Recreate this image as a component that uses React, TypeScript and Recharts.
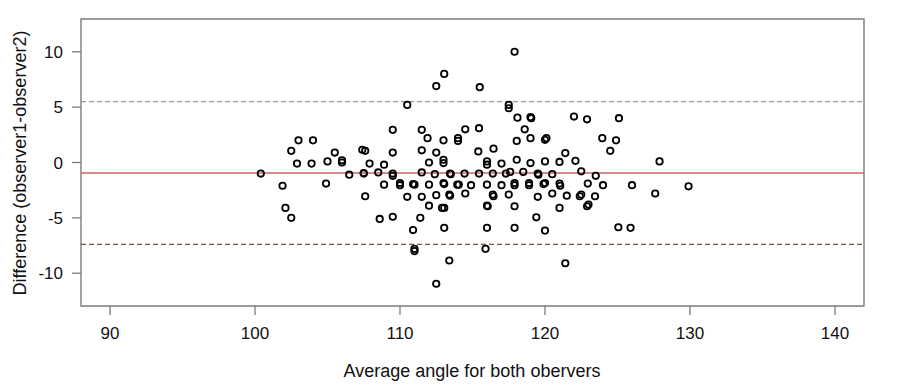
import {
  ScatterChart,
  Scatter,
  XAxis,
  YAxis,
  ReferenceLine,
  ReferenceArea,
} from "recharts";

// average of both observers (x) and their difference (y)
const avgAngle = [
  100.4, 101.9, 102.1, 102.5, 102.5, 103.0, 104.0, 102.9, 103.9, 104.9,
  105.0, 105.5, 106.0, 106.0, 106.5, 107.4, 107.6, 107.5, 107.5, 107.6,
  107.9, 108.5, 108.6, 108.9, 108.9, 109.5, 109.5, 109.5, 109.5, 109.5,
  110.0, 110.0, 110.5, 110.5, 110.9, 111.0, 111.0, 110.9, 111.0, 111.5,
  111.9, 111.5, 112.5, 112.0, 111.5, 112.4, 112.0, 111.5, 112.5, 112.0,
  112.9, 113.05, 111.4, 113.05, 113.05, 112.5, 115.5, 117.9, 117.5, 117.5,
  113.0, 113.0, 113.0, 113.0, 113.05, 113.45, 113.5, 114.0, 114.0, 114.45,
  113.95, 114.05, 114.5, 114.5, 114.9, 115.45, 115.4, 115.45, 116.0, 116.0,
  116.0, 116.0, 116.05, 116.4, 116.45, 116.0, 116.45, 116.4, 117.0, 117.0,
  117.3, 117.6, 117.5, 117.9, 117.9, 118.1, 119.0, 119.05, 118.6, 118.05,
  119.0, 120.0, 120.1, 118.05, 119.0, 120.0, 118.5, 119.5, 119.55, 117.9,
  117.9, 118.9, 118.9, 119.9, 120.0, 119.5, 119.4, 120.0, 122.0, 122.9,
  125.1, 123.95, 124.9, 124.5, 121.4, 121.0, 122.1, 127.9, 120.5, 122.5,
  123.5, 121.0, 121.05, 122.95, 124.0, 126.0, 129.9, 120.5, 121.5, 122.4,
  122.5, 123.45, 127.6, 121.0, 122.9, 123.0, 125.06, 125.9, 115.9, 113.4,
  121.4, 112.5, 113.4, 113.45,
];

const diffObs = [
  -1.0, -2.1, -4.1, -5.0, 1.05, 2.0, 2.0, -0.1, -0.1, -1.9,
  0.1, 0.9, 0.2, 0.0, -1.1, 1.15, 1.05, -1.0, -0.95, -3.05,
  -0.1, -0.9, -5.1, -0.2, -2.0, 2.95, 0.9, -1.0, -1.2, -4.9,
  -1.85, -2.05, 5.2, -3.1, -6.1, -7.8, -8.0, -1.95, -2.0, 2.95,
  2.2, 1.1, 0.9, 0.0, -0.9, -1.05, -2.0, -3.1, -2.95, -3.9,
  -4.1, -4.1, -5.0, -5.9, 8.0, 6.9, 6.8, 10.0, 5.2, 4.9,
  2.0, 0.25, -0.05, -1.85, -1.95, -1.0, -1.05, 2.2, 1.95, -1.0,
  -2.0, -2.0, 3.0, -2.8, -2.05, 3.1, 1.0, -1.0, 0.1, -0.2,
  -2.0, -3.9, -3.95, -2.9, -3.05, -5.9, 1.25, -1.0, -0.1, -2.05,
  -1.0, -0.85, -2.9, -3.95, -5.9, 4.05, 4.1, 4.0, 3.0, 1.95,
  2.2, 2.05, 2.2, 0.25, -0.05, 0.1, -0.85, -1.0, -1.1, -1.85,
  -2.05, -1.85, -2.05, -1.95, -1.85, -3.1, -4.95, -6.15, 4.15, 3.9,
  4.0, 2.2, 2.0, 1.05, 0.85, 0.05, 0.15, 0.1, -1.05, -0.8,
  -1.2, -1.9, -2.1, -1.9, -2.05, -2.05, -2.15, -2.8, -3.0, -3.05,
  -2.9, -3.05, -2.8, -4.1, -3.95, -3.8, -5.85, -5.9, -7.8, -8.85,
  -9.1, -10.95, -2.9, -3.0,
];

const xTicks = [90, 100, 110, 120, 130, 140];
const yTicks = [-10, -5, 0, 5, 10];

const meanDiff = -0.95;
const upperLimit = 5.5;
const lowerLimit = -7.4;

const points = avgAngle.map((x, i) => ({ x, y: diffObs[i] }));

const FONT = "'Liberation Sans', Arial, sans-serif";
const GREY = "#7c7c7c";

const Ring = (props: any) => {
  const { cx, cy } = props;
  if (cx == null || cy == null) return null;
  return <circle cx={cx} cy={cy} r={3.2} fill="none" stroke="#000" strokeWidth={1.8} />;
};

export default function App() {
  return (
    <div style={{ width: 884, height: 379 }}>
      <ScatterChart
        width={884}
        height={379}
        margin={{ top: 11, right: 28, bottom: 21, left: 0 }}
      >
        <XAxis
          type="number"
          dataKey="x"
          domain={[88, 142]}
          ticks={xTicks}
          allowDataOverflow
          axisLine={false}
          tickLine={{ stroke: GREY, strokeWidth: 1.3 }}
          tickSize={9}
          tickMargin={12}
          height={60}
          tick={{ fill: "#111", fontSize: 17, fontFamily: FONT }}
          label={{
            content: () => (
              <text
                x={464}
                y={369}
                textAnchor="middle"
                fontSize={18}
                fontFamily={FONT}
                fill="#111"
              >
                Average angle for both obervers
              </text>
            ),
          }}
        />
        <YAxis
          type="number"
          dataKey="y"
          domain={[-12.96, 12.96]}
          ticks={yTicks}
          allowDataOverflow
          axisLine={false}
          tickLine={{ stroke: GREY, strokeWidth: 1.3 }}
          tickSize={9}
          tickMargin={9}
          width={73}
          tick={{ fill: "#111", fontSize: 17, fontFamily: FONT }}
          label={{
            content: () => (
              <text
                x={0}
                y={0}
                transform="translate(18,155) rotate(-90)"
                textAnchor="middle"
                fontSize={18}
                fontFamily={FONT}
                fill="#111"
              >
                Difference (observer1-observer2)
              </text>
            ),
          }}
        />
        <ReferenceLine y={meanDiff} stroke="#c46666" strokeWidth={1.3} />
        <ReferenceLine y={upperLimit} stroke="#a89292" strokeWidth={1.3} strokeDasharray="5 3" />
        <ReferenceLine y={lowerLimit} stroke="#8a4a4a" strokeWidth={1.3} strokeDasharray="5 3" />
        <Scatter data={points} shape={Ring} isAnimationActive={false} />
        <ReferenceArea
          x1={88}
          x2={142}
          y1={-12.96}
          y2={12.96}
          fill="none"
          fillOpacity={0}
          stroke={GREY}
          strokeWidth={1.4}
        />
      </ScatterChart>
    </div>
  );
}
